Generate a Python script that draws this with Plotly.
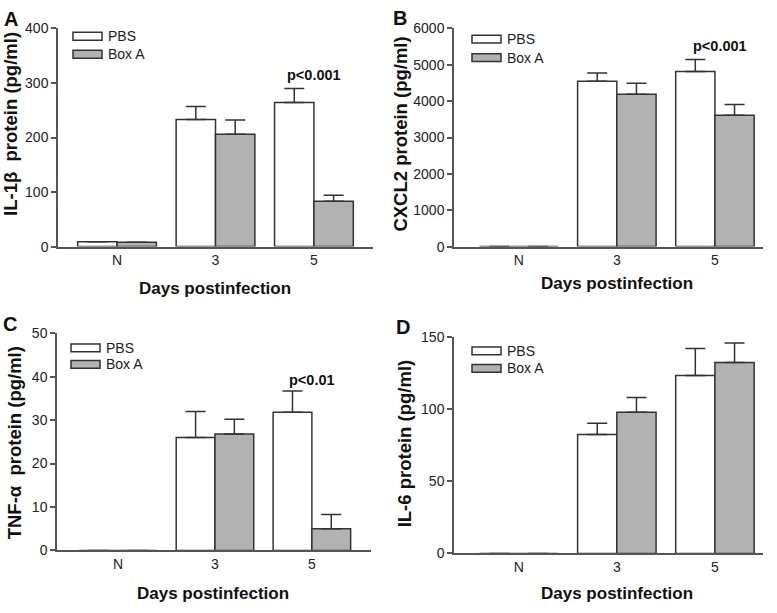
import plotly.graph_objects as go

W, H = 777, 613
categories = ["N", "3", "5"]
series_names = ["PBS", "Box A"]

il1b_pbs = [9, 233, 264]
il1b_pbs_err = [0, 24, 26]
il1b_boxa = [8, 206, 83]
il1b_boxa_err = [0, 26, 11]

cxcl2_pbs = [0, 4545, 4813]
cxcl2_pbs_err = [0, 232, 330]
cxcl2_boxa = [0, 4188, 3616]
cxcl2_boxa_err = [0, 303, 295]

tnf_pbs = [0, 26.0, 31.8]
tnf_pbs_err = [0, 6.0, 4.9]
tnf_boxa = [0, 26.8, 5.0]
tnf_boxa_err = [0, 3.4, 3.3]

il6_pbs = [0, 82.4, 123.4]
il6_pbs_err = [0, 7.9, 18.7]
il6_boxa = [0, 98.0, 132.4]
il6_boxa_err = [0, 10.1, 13.5]

y_titles = ["IL-1β  protein (pg/ml)", "CXCL2 protein (pg/ml)", "TNF-α  protein (pg/ml)", "IL-6 protein (pg/ml)"]
y_ranges = [[0, 400], [0, 6000], [0, 50], [0, 150]]
y_dticks = [100, 1000, 10, 50]
panel_letters = ["A", "B", "C", "D"]
x_title = "Days postinfection"
p_texts = ["p<0.001", "p<0.001", "p<0.01", None]
p_pos = [(2.0, 314), (2.05, 5518), (2.0, 39.2), None]

panels = [
    (il1b_pbs, il1b_pbs_err, il1b_boxa, il1b_boxa_err),
    (cxcl2_pbs, cxcl2_pbs_err, cxcl2_boxa, cxcl2_boxa_err),
    (tnf_pbs, tnf_pbs_err, tnf_boxa, tnf_boxa_err),
    (il6_pbs, il6_pbs_err, il6_boxa, il6_boxa_err),
]

# layout in pixels: (x0, x1, ytop, ybottom)
boxes = [(58, 373, 21, 245), (454, 763, 21, 245), (57, 371, 334, 557), (454, 763, 338, 560)]
x_ranges = [[-0.6, 2.6], [-0.66, 2.49], [-0.63, 2.61], [-0.66, 2.49]]
ytitle_pos = [(11, 119), (401, 130), (14, 447), (404, 447)]
xtitle_pos = [(215, 288), (617, 283), (213, 601), (617, 601)]
letter_pos = [(11, 11), (400, 10), (10, 324), (403, 328)]
legend_pos = [(73, 29, 47.5), (472, 32, 51), (71, 349, 366), (472, 352, 370)]

FONT = "Liberation Sans, Arial, sans-serif"
EDGE = "#333333"
GRAY = "#b2b2b2"
fills = ["#ffffff", GRAY]

def px(x):
    return x / W

def py(y):
    return 1 - y / H

fig = go.Figure()
layout = dict(
    width=W, height=H, margin=dict(l=0, r=0, t=0, b=0),
    plot_bgcolor="white", paper_bgcolor="white",
    barmode="group", bargap=0.2, bargroupgap=0,
    showlegend=False, font=dict(family=FONT, color="#222222"),
)
annotations = []
shapes = []

for i, (pbs, pbs_err, boxa, boxa_err) in enumerate(panels):
    sfx = "" if i == 0 else str(i + 1)
    xa, ya = "x" + sfx, "y" + sfx
    for name, vals, errs, fill in [(series_names[0], pbs, pbs_err, fills[0]), (series_names[1], boxa, boxa_err, fills[1])]:
        fig.add_trace(go.Bar(
            x=categories, y=vals, name=name, xaxis=xa, yaxis=ya,
            marker=dict(color=fill, line=dict(color=EDGE, width=1.5)),
            error_y=dict(type="data", symmetric=False, array=errs, arrayminus=[0] * len(errs),
                         color=EDGE, thickness=1.5, width=10),
            offsetgroup=name,
        ))
    x0, x1, yt, yb = boxes[i]
    layout["xaxis" + sfx] = dict(
        domain=[px(x0), px(x1)], anchor=ya, type="category", range=x_ranges[i],
        showline=True, linecolor="#555555", linewidth=1.5, ticks="",
        tickfont=dict(size=14, color="#222222"), showgrid=False, zeroline=False,
    )
    layout["yaxis" + sfx] = dict(
        domain=[py(yb), py(yt)], anchor=xa, range=y_ranges[i], dtick=y_dticks[i],
        showline=True, linecolor="#555555", linewidth=1.5, ticks="outside", ticklen=5,
        tickwidth=1.5, tickcolor="#555555", tickfont=dict(size=14, color="#222222"),
        showgrid=False, zeroline=False,
    )
    tx, ty = ytitle_pos[i]
    annotations.append(dict(x=px(tx), y=py(ty), xref="paper", yref="paper", text="<b>%s</b>" % y_titles[i],
                            textangle=-90, showarrow=False, font=dict(size=18.5, color="#111111"),
                            xanchor="center", yanchor="middle"))
    tx, ty = xtitle_pos[i]
    annotations.append(dict(x=px(tx), y=py(ty), xref="paper", yref="paper", text="<b>%s</b>" % x_title,
                            showarrow=False, font=dict(size=17, color="#111111"),
                            xanchor="center", yanchor="middle"))
    lx, ly = letter_pos[i]
    annotations.append(dict(x=px(lx), y=py(ly), xref="paper", yref="paper", text="<b>%s</b>" % panel_letters[i],
                            showarrow=False, font=dict(size=20, color="#111111"),
                            xanchor="center", yanchor="middle"))
    if p_texts[i]:
        annotations.append(dict(x=p_pos[i][0], y=p_pos[i][1], xref=xa, yref=ya, text="<b>%s</b>" % p_texts[i],
                                showarrow=False, font=dict(size=14.5, color="#111111"),
                                xanchor="center", yanchor="middle"))
    lgx, l1, l2 = legend_pos[i]
    for yy, fill, name in [(l1, fills[0], series_names[0]), (l2, fills[1], series_names[1])]:
        shapes.append(dict(type="rect", xref="paper", yref="paper",
                           x0=px(lgx), x1=px(lgx + 29), y0=py(yy - 4), y1=py(yy + 4),
                           fillcolor=fill, line=dict(color=EDGE, width=1.5)))
        annotations.append(dict(x=px(lgx + 33), y=py(yy), xref="paper", yref="paper", text=name,
                                showarrow=False, font=dict(size=14, color="#222222"),
                                xanchor="left", yanchor="middle"))

layout["annotations"] = annotations
layout["shapes"] = shapes
fig.update_layout(**layout)
fig.write_html("out.html", config={"displayModeBar": False},
               post_script="document.body.style.margin='0';document.body.style.overflow='hidden';")
